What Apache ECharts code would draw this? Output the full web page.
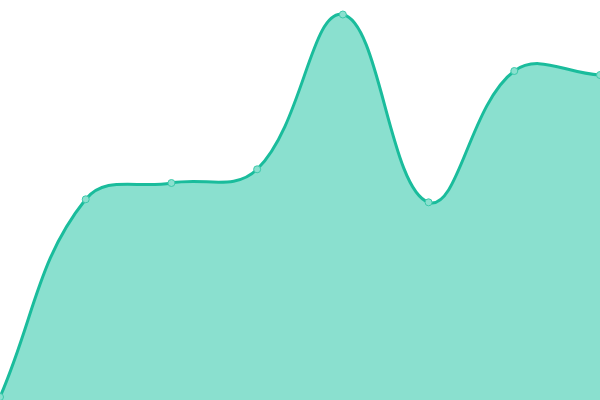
<!DOCTYPE html>
<html>
<head>
<meta charset="utf-8">
<script src="https://cdn.jsdelivr.net/npm/echarts@6/dist/echarts.min.js"></script>
<style>
    html, body { margin: 0; padding: 0; background: #fff; }
    #main { width: 600px; height: 400px; }
</style>
</head>
<body>
<div id="main"></div>
<script>
// 数据
const categories = ['A', 'B', 'C', 'D', 'E', 'F', 'G', 'H'];
const values = [3, 200.7, 217, 230.7, 385.5, 197.7, 329, 325];

const lineColor = '#1abc9c';
const areaColor = '#8ae0cf';
const tension = 0.4;

// 样条控制点
function controlPoints(prev, cur, next) {
    let d01 = Math.hypot(cur[0] - prev[0], cur[1] - prev[1]);
    let d12 = Math.hypot(next[0] - cur[0], next[1] - cur[1]);
    let s01 = d01 / (d01 + d12) || 0;
    let s12 = d12 / (d01 + d12) || 0;
    let fa = tension * s01, fb = tension * s12;
    let vx = next[0] - prev[0], vy = next[1] - prev[1];
    return {
        before: [cur[0] - fa * vx, cur[1] - fa * vy],
        after: [cur[0] + fb * vx, cur[1] + fb * vy]
    };
}

function renderCurve(params, api) {
    if (params.dataIndex !== 0) return;
    let pts = values.map((v, i) => api.coord([i, v]));
    let cps = pts.map((p, i) => controlPoints(pts[i - 1] || p, p, pts[i + 1] || p));
    let d = 'M' + pts[0][0] + ',' + pts[0][1];
    for (let i = 1; i < pts.length; i++) {
        let a = cps[i - 1].after, b = cps[i].before;
        d += 'C' + a[0] + ',' + a[1] + ' ' + b[0] + ',' + b[1] + ' ' + pts[i][0] + ',' + pts[i][1];
    }
    let base = api.coord([0, 0])[1];
    let last = pts[pts.length - 1];
    let area = d + 'L' + last[0] + ',' + base + 'L' + pts[0][0] + ',' + base + 'Z';
    return {
        type: 'group',
        children: [
            { type: 'path', shape: { pathData: area }, style: { fill: areaColor } },
            { type: 'path', shape: { pathData: d }, style: { fill: null, stroke: lineColor, lineWidth: 3 } }
        ]
    };
}

function chart() {
    let myChart = echarts.init(document.querySelector('#main'));
    let option = {
        animation: false,
        grid: { left: 0, right: 0, top: 0, bottom: 0 },
        xAxis: {
            type: 'category',
            boundaryGap: false,
            data: categories,
            show: false
        },
        yAxis: {
            type: 'value',
            min: 0,
            max: 400,
            show: false
        },
        series: [
            {
                type: 'custom',
                renderItem: renderCurve,
                data: values.map((v, i) => [i, v]),
                clip: false,
                z: 1
            },
            {
                type: 'scatter',
                data: values.map((v, i) => [i, v]),
                symbol: 'circle',
                symbolSize: 7,
                itemStyle: {
                    color: areaColor,
                    borderColor: '#3cc9aa',
                    borderWidth: 1,
                    opacity: 1
                },
                z: 3
            }
        ]
    };
    myChart.setOption(option);
}
chart();
</script>
</body>
</html>
